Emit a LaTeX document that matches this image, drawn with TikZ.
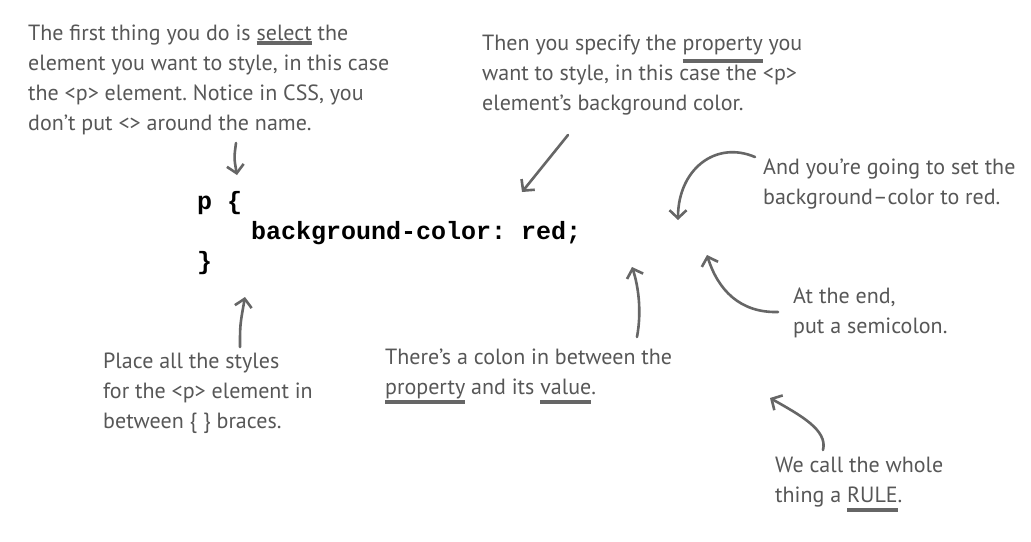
\documentclass[tikz,border=0pt]{standalone}
\usepackage{fontspec}
\setmainfont{PT Sans}
\newfontfamily\codefont{Liberation Mono}
\usetikzlibrary{arrows.meta}
\frenchspacing

\definecolor{pencil}{HTML}{575757}
\definecolor{stroke}{HTML}{666666}

\tikzset{
  note/.style={anchor=base west, align=left, inner sep=0pt, text=pencil,
    font=\fontsize{22}{30}\selectfont},
  code/.style={anchor=base west, inner sep=0pt,
    font=\codefont\bfseries\fontsize{25}{30}\selectfont},
  pointer/.style={draw=stroke, line width=2.6pt, line cap=round,
    -{Straight Barb[length=8pt,width=17pt]}}
}

% a word with a pencil stroke under it
\newcommand{\penmark}[2][8pt]{\setbox0\hbox{#2}%
  \rlap{\color{stroke}\rule[\dimexpr-#1-2pt\relax]{\wd0}{4pt}}\box0\relax}

\begin{document}
\begin{tikzpicture}[x=1pt,y=-1pt]
\useasboundingbox[fill=white] (0,0) rectangle (1031,541);

% the rule itself
\node[code] (selector) at (197,209) {p \{};
\node[code] (declaration) at (251,239) {background-color: red;};
\node[code] (closing) at (197,269) {\}};

% notes (placed at the baseline of their last line)
\node[note] (selectNote) at (28,130) {The first thing you do is \penmark[3pt]{select} the\\
  element you want to style, in this case\\
  the <p> element. Notice in CSS, you\\
  don't put <> around the name.};
\node[note] (propNote) at (482,110) {Then you specify the \penmark[11pt]{property} you\\
  want to style, in this case the <p>\\
  element's background color.};
\node[note] (valueNote) at (763,204) {And you're going to set the\\
  background--color to red.};
\node[note] (semiNote) at (793,333) {At the end,\\ put a semicolon.};
\node[note] (braceNote) at (103,428) {Place all the styles\\
  for the <p> element in\\
  between \{ \} braces.};
\node[note] (colonNote) at (385,394) {There's a colon in between the\\
  \penmark{property} and its \penmark{value}.};
\node[note] (ruleNote) at (775,502) {We call the whole\\ thing a \penmark{RULE}.};

% arrow ends
\coordinate (selTail) at (236,143);
\coordinate (selTip) at (237,175);
\coordinate (propTail) at (568,135);
\coordinate (propTip) at (522,192);
\coordinate (valTail) at (755,157);
\coordinate (valTip) at (678,220);
\coordinate (semiTail) at (778,312);
\coordinate (semiTip) at (707,255);
\coordinate (braceTail) at (240,347);
\coordinate (braceTip) at (245,297);
\coordinate (colonTail) at (637,337);
\coordinate (colonTip) at (632,267);
\coordinate (ruleTail) at (823,450);
\coordinate (ruleTip) at (770,398);

% arrows
\draw[pointer] (selTail) .. controls (234,158) .. (selTip);
\draw[pointer] (propTail) -- (propTip);
\draw[pointer] (valTail) .. controls (715,140) and (678,170) .. (valTip);
\draw[pointer] (semiTail) .. controls (740,313) and (718,290) .. (semiTip);
\draw[pointer] (braceTail) .. controls (240,325) .. (braceTip);
\draw[pointer] (colonTail) .. controls (642,310) and (638,285) .. (colonTip);
\draw[pointer] (ruleTail) .. controls (828,430) and (800,415) .. (ruleTip);
\end{tikzpicture}
\end{document}
